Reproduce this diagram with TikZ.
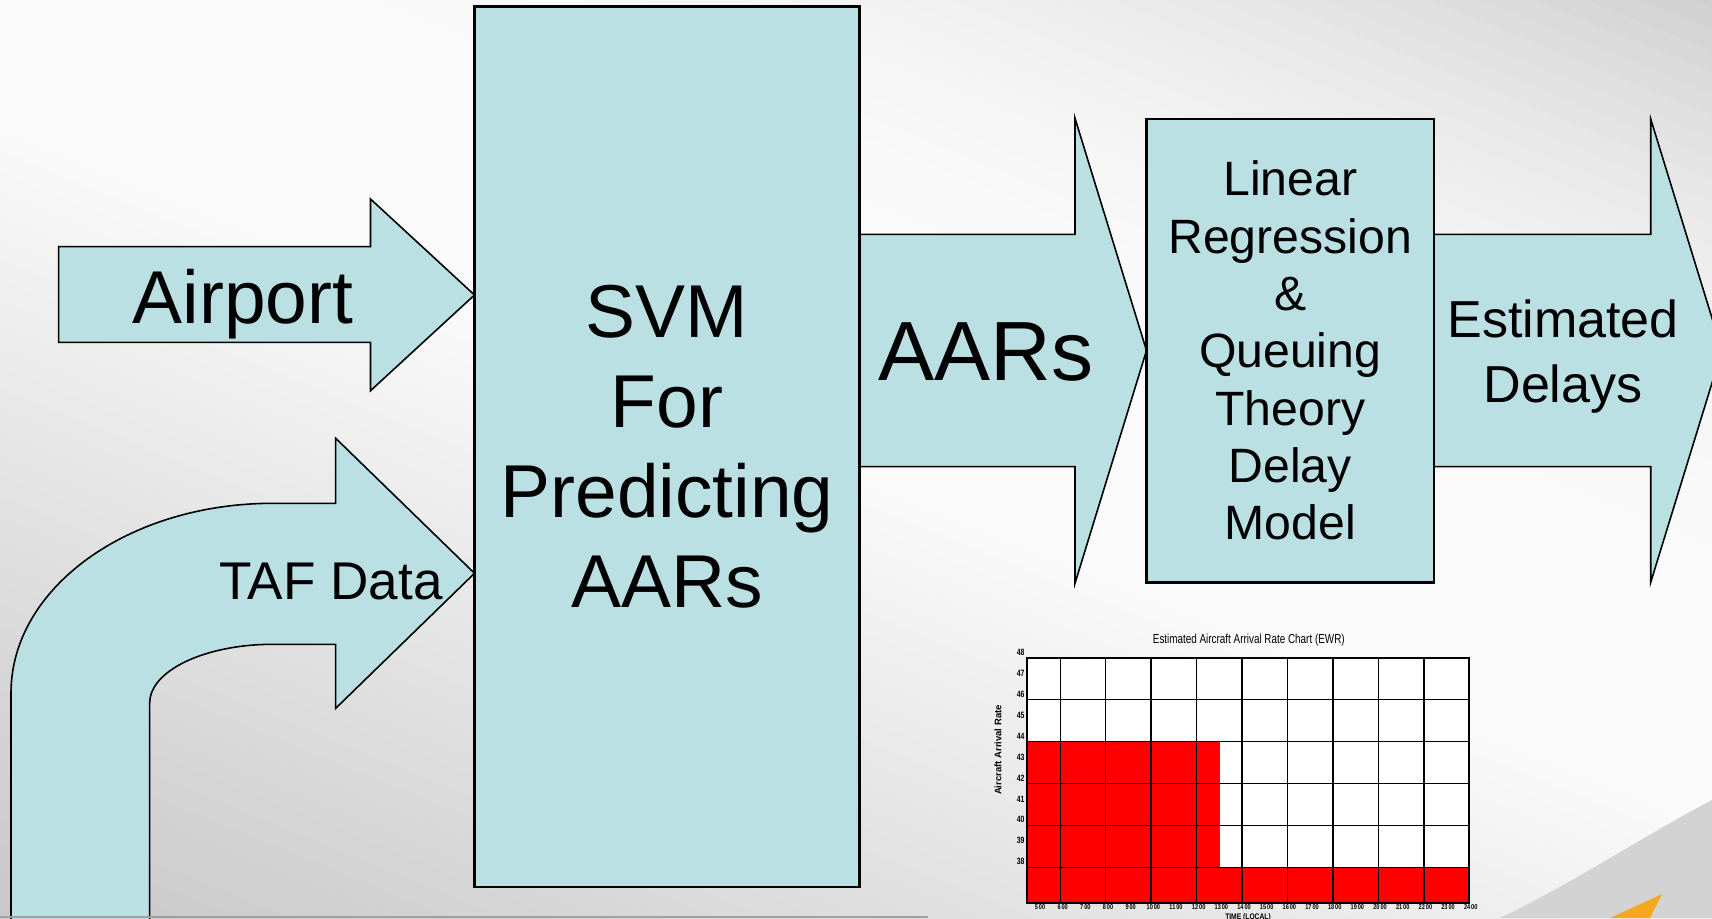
\documentclass[tikz,border=0pt]{standalone}
\usepackage{fontspec}
\setmainfont{Liberation Sans}

\definecolor{boxblue}{RGB}{186,224,227}
\definecolor{chartred}{RGB}{255,0,0}
\definecolor{swooshgray}{RGB}{211,211,211}
\definecolor{accentorange}{RGB}{244,168,32}
\definecolor{edgegray}{RGB}{160,160,160}

\begin{document}
\begin{tikzpicture}[x=0.01cm,y=-0.01cm,
  modelbox/.style={draw, line width=0.7pt, fill=boxblue, inner sep=0pt, align=center},
  blockarrow/.style={draw, line width=0.45pt, fill=boxblue, line join=miter},
  gridline/.style={line width=0.4pt},
  ratelabel/.style={font=\bfseries\fontsize{2.6}{3}\selectfont, inner sep=0pt, xscale=0.75, anchor=east},
  hourlabel/.style={font=\bfseries\fontsize{2}{2.4}\selectfont, inner sep=0pt, xscale=0.8}]

  % page area
  \useasboundingbox (0,0) rectangle (1712,918);
  \clip (0,0) rectangle (1712,918);

  % background: grey-white bands along the diagonal
  \begin{scope}[rotate=-22.2]
    \foreach \d in {-760,-740,...,940} {
      \pgfmathsetmacro{\upper}{max(0-(\d)-100,0)/600}
      \pgfmathsetmacro{\lower}{max(\d-100,0)/750}
      \pgfmathsetmacro{\blk}{2+19*\upper*\upper+20*\lower}
      \fill[black!\blk] (-200,\d) rectangle (2200,\d+21);
    }
  \end{scope}

  % swoosh in the corner
  \fill[swooshgray] (1712,800) .. controls (1640,838) and (1575,882) .. (1500,918) -- (1712,918) -- cycle;
  \fill[accentorange] (1662,894) -- (1650,918) -- (1610,918) -- cycle;

  % input arrows
  \draw[blockarrow] (58.6,246.7) -- (370.5,246.7) -- (370.5,199) -- (474.5,295)
    -- (370.5,390.7) -- (370.5,342.3) -- (58.6,342.3) -- cycle;
  \draw[blockarrow] (11,930) -- (11,693) .. controls (11,588) and (128,503.3) .. (273,503.3)
    -- (335.7,503.3) -- (335.7,438.3) -- (474.5,573.3) -- (335.7,708.3) -- (335.7,644.3)
    -- (273,644.3) .. controls (205,644.3) and (149.7,670.6) .. (149.7,703) -- (149.7,930);

  % output arrows
  \draw[blockarrow] (859.5,234.3) -- (1075,234.3) -- (1075,118.3) -- (1146.5,350.5)
    -- (1075,583.3) -- (1075,466.7) -- (859.5,466.7);
  \draw[blockarrow] (1434,234.3) -- (1650.7,234.3) -- (1650.7,119) -- (1722,350.5)
    -- (1650.7,582.3) -- (1650.7,466.7) -- (1434,466.7);

  % model blocks
  \node[modelbox, minimum width=3.85cm, minimum height=8.8cm,
    font=\fontsize{21.3}{25.5}\selectfont] (svm) at (667,446.7) {SVM\\For\\Predicting\\AARs};
  \node[modelbox, minimum width=2.875cm, minimum height=4.633cm,
    font=\fontsize{13.7}{16.3}\selectfont] (delay) at (1290.2,350.7)
    {Linear\\Regression\\\&\\Queuing\\Theory\\Delay\\Model};

  % arrow labels
  \node[font=\fontsize{21.3}{25}\selectfont, anchor=base] (airport) at (243,323) {Airport};
  \node[font=\fontsize{15.1}{18}\selectfont, anchor=base] (taf) at (331,599) {TAF Data};
  \node[font=\fontsize{23.9}{28}\selectfont] (aars) at (986,352) {AARs};
  \node[font=\fontsize{14.8}{18.5}\selectfont, align=center] (delays) at (1563,357) {Estimated\\Delays};

  % arrival rate chart
  \fill[white] (1026.7,657.7) rectangle (1469.3,902.7);
  \fill[chartred] (1026.7,741.7) rectangle (1220,867.7);
  \fill[chartred] (1026.7,867.7) rectangle (1469.3,902.7);
  \foreach \y in {699.3,741.7,783.3,825.7,867.7}
    \draw[gridline] (1026.7,\y) -- (1469.3,\y);
  \foreach \k in {0,...,8}
    \draw[gridline] ({1060.3+45.44*\k},657.7) -- ({1060.3+45.44*\k},902.7);
  \draw[line width=0.5pt] (1026.7,657.7) rectangle (1469.3,902.7);

  \foreach \v in {38,...,48}
    \node[ratelabel] (rate\v) at (1025,{652.3+(48-\v)*20.94}) {\v};
  \foreach \h in {5,...,24}
    \node[hourlabel] (hour\h) at ({1040+(\h-5)*22.67},906.7) {\h\,00};

  \node[font=\fontsize{3.7}{4.4}\selectfont, xscale=0.76, anchor=base] (charttitle)
    at (1248.8,643.3) {Estimated Aircraft Arrival Rate Chart (EWR)};
  \node[font=\bfseries\fontsize{2.7}{3}\selectfont, rotate=90] (ratetitle)
    at (998,750) {Aircraft Arrival Rate};
  \node[font=\bfseries\fontsize{2.3}{3}\selectfont, xscale=0.83, anchor=base] (timetitle)
    at (1248,919.5) {TIME (LOCAL)};

  % lower page edge
  \draw[edgegray, line width=0.45pt] (0,917) -- (928,917);
\end{tikzpicture}
\end{document}
